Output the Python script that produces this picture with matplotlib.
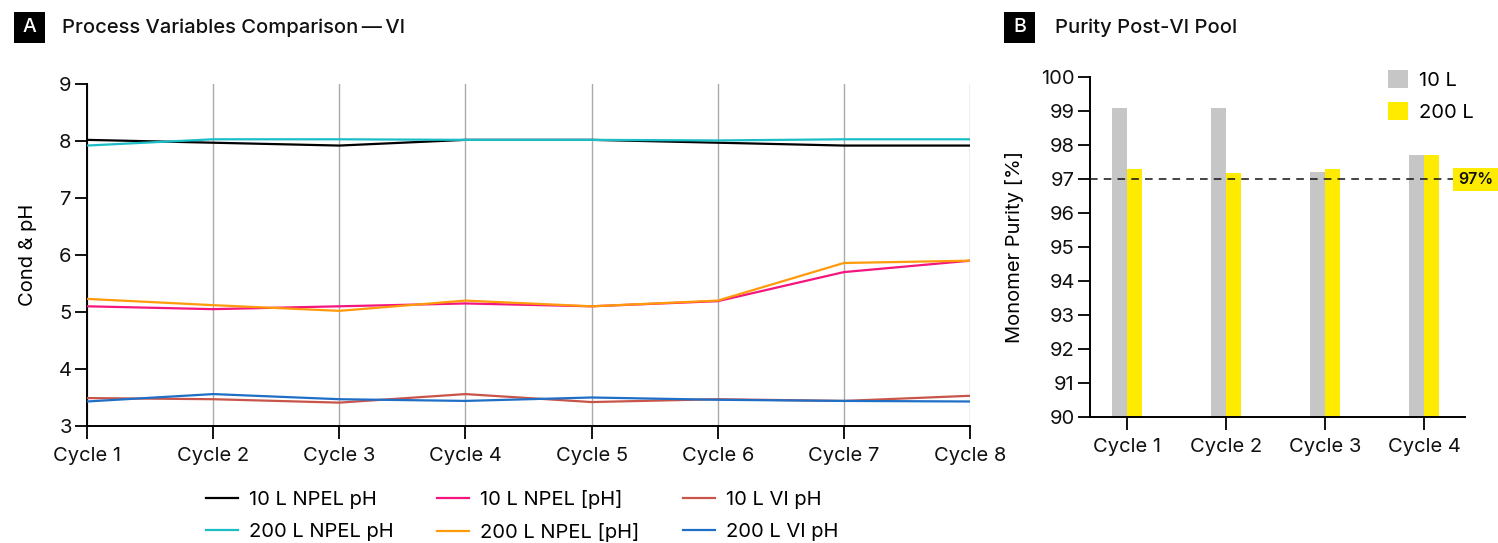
import matplotlib
matplotlib.use("Agg")
import matplotlib.pyplot as plt
import numpy as np
from matplotlib.patches import Rectangle

plt.rcParams['font.family'] = ['Inter', 'DejaVu Sans']

# ---- data ----
cycles_a = ["Cycle 1", "Cycle 2", "Cycle 3", "Cycle 4", "Cycle 5", "Cycle 6", "Cycle 7", "Cycle 8"]
npel_ph_10 = [8.02, 7.97, 7.92, 8.02, 8.02, 7.97, 7.92, 7.92]
npel_ph_200 = [7.92, 8.03, 8.03, 8.02, 8.02, 8.01, 8.03, 8.03]
npel_cph_10 = [5.10, 5.05, 5.10, 5.15, 5.10, 5.19, 5.70, 5.90]
npel_cph_200 = [5.23, 5.12, 5.02, 5.20, 5.10, 5.20, 5.86, 5.90]
vi_ph_10 = [3.49, 3.47, 3.41, 3.56, 3.42, 3.47, 3.44, 3.53]
vi_ph_200 = [3.43, 3.56, 3.47, 3.44, 3.50, 3.46, 3.44, 3.43]
a_yticks = [3, 4, 5, 6, 7, 8, 9]

cycles_b = ["Cycle 1", "Cycle 2", "Cycle 3", "Cycle 4"]
purity_10 = [99.1, 99.1, 97.2, 97.7]
purity_200 = [97.3, 97.17, 97.28, 97.7]
purity_limit = 97
b_yticks = list(range(90, 101))

W, H = 1498, 543
fig = plt.figure(figsize=(W / 100, H / 100), dpi=100)
FS = 14.5

def fx(px):
    return px / W

def fy(py):
    return 1 - py / H

# ---- Panel A ----
axA = fig.add_axes([fx(87), fy(426), fx(970 - 87), (426 - 84) / H])
x = np.arange(len(cycles_a))
series = [
    ("10 L NPEL pH", npel_ph_10, "#000000"),
    ("200 L NPEL pH", npel_ph_200, "#1cbec6"),
    ("10 L NPEL [pH]", npel_cph_10, "#f5157f"),
    ("200 L NPEL [pH]", npel_cph_200, "#ff9a0a"),
    ("10 L VI pH", vi_ph_10, "#c9554a"),
    ("200 L VI pH", vi_ph_200, "#1f6fc6"),
]
for lab, vals, col in series:
    axA.plot(x, vals, color=col, lw=1.6, label=lab, zorder=3)

axA.set_xlim(0, len(cycles_a) - 1)
axA.set_ylim(3, 9)
axA.set_xticks(x)
axA.set_xticklabels(cycles_a, fontsize=FS)
axA.set_yticks(a_yticks)
axA.set_yticklabels([str(v) for v in a_yticks], fontsize=FS)
axA.grid(axis='x', color='#aaaaaa', lw=1.0, zorder=0)
for s in ['top', 'right']:
    axA.spines[s].set_visible(False)
for s in ['left', 'bottom']:
    axA.spines[s].set_linewidth(1.4)
axA.tick_params(axis='both', direction='out', length=9, width=1.4, pad=2, colors='#111111')
axA.tick_params(axis='x', pad=6)
axA.set_ylabel("Cond & pH", fontsize=FS, labelpad=16)

handles, labels = axA.get_legend_handles_labels()
legA = fig.legend(handles, labels,
                  ncol=3, loc='center', bbox_to_anchor=(fx(522), fy(516)),
                  frameon=False, fontsize=FS, handlelength=1.6, handletextpad=0.55,
                  columnspacing=2.15, labelspacing=0.72)

# ---- Panel B ----
axB = fig.add_axes([fx(1090), fy(417), fx(1465 - 1090), (417 - 77) / H])
xb = np.arange(len(cycles_b))
bw = 0.155
axB.bar(xb - bw / 2, [v - 90 for v in purity_10], bw, bottom=90, color="#c6c6c6", label="10 L", zorder=2)
axB.bar(xb + bw / 2, [v - 90 for v in purity_200], bw, bottom=90, color="#ffeb00", label="200 L", zorder=2)
axB.axhline(purity_limit, xmin=0, xmax=(1453 - 1090) / (1465 - 1090), color='#111111', lw=1.1,
            ls=(0, (5, 4)), zorder=3)
axB.set_xlim(-0.374, 3.414)
axB.set_ylim(90, 100)
axB.set_xticks(xb)
axB.set_xticklabels(cycles_b, fontsize=FS)
axB.set_yticks(b_yticks)
axB.set_yticklabels([str(v) for v in b_yticks], fontsize=FS)
for s in ['top', 'right']:
    axB.spines[s].set_visible(False)
for s in ['left', 'bottom']:
    axB.spines[s].set_linewidth(1.4)
axB.tick_params(axis='both', direction='out', length=9, width=1.4, pad=2, colors='#111111')
axB.tick_params(axis='x', pad=6)
axB.set_ylabel("Monomer Purity [%]", fontsize=FS, labelpad=12)
axB.legend(loc='upper left', bbox_to_anchor=((1370 - 1090) / (1465 - 1090), 1.075),
           frameon=False, fontsize=FS, handlelength=1.0, handleheight=1.0,
           handletextpad=0.55, labelspacing=0.6)

# 97% label
yb = axB.transData.transform((0, purity_limit))[1] / H
fig.patches.append(Rectangle((fx(1453), yb - 11.5 / H), fx(45), 23 / H, transform=fig.transFigure,
                             facecolor="#ffeb00", edgecolor='none', zorder=5))
fig.text(fx(1476), yb, "97%", ha='center', va='center', fontsize=11.5, fontweight='semibold',
         color='#111111', zorder=6)

# ---- Titles with letter boxes ----
for letter, bx, tx, title in [("A", 14, 62, "Process Variables Comparison\u2009\u2014\u2009VI"),
                              ("B", 1004, 1055, "Purity Post-VI Pool")]:
    fig.patches.append(Rectangle((fx(bx), fy(43)), fx(31), 31 / H, transform=fig.transFigure,
                                 facecolor='black', edgecolor='none'))
    fig.text(fx(bx + 15.5), fy(27.5), letter, ha='center', va='center', color='white', fontsize=14,
             fontweight='medium')
    fig.text(fx(tx), fy(27.5), title, ha='left', va='center', color='#111111', fontsize=14.5,
             fontweight='medium')

fig.savefig("out.png", dpi=100)
